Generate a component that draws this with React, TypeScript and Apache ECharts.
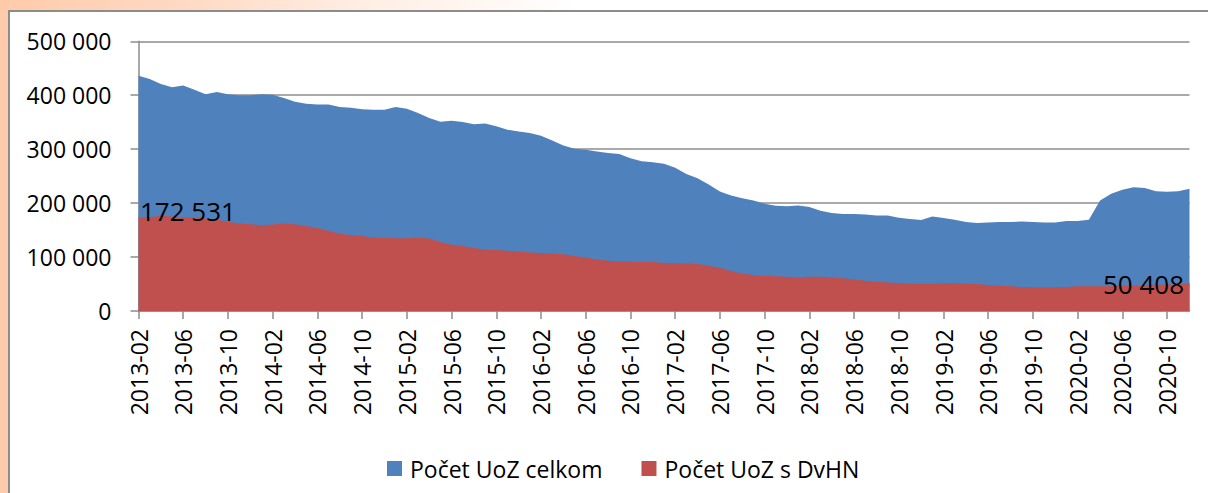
import React, { useEffect, useRef } from "react";
import * as echarts from "echarts";

const startYear = 2013;
const startMonth = 2;
const monthCount = 95;

const categories: string[] = [];
for (let i = 0; i < monthCount; i++) {
  const m = startMonth - 1 + i;
  const y = startYear + Math.floor(m / 12);
  const mm = (m % 12) + 1;
  categories.push(`${y}-${mm < 10 ? "0" + mm : mm}`);
}

const seriesNames = ["Počet UoZ celkom", "Počet UoZ s DvHN"];

const totalValues = [
  436000, 430000, 421000, 415000, 418000, 410000, 402000, 406000, 402000, 400000,
  400000, 402000, 401000, 395000, 388000, 384000, 383000, 383000, 378000, 377000,
  374000, 373000, 373000, 378000, 375000, 367000, 358000, 351000, 352500, 350600,
  346000, 347500, 342600, 336000, 333000, 330000, 325000, 316000, 307000, 300600,
  298800, 295700, 293000, 291000, 283000, 277800, 276000, 272800, 265400, 254000,
  246000, 234600, 221600, 214000, 209000, 205000, 198800, 195000, 194400, 195700,
  192600, 185800, 181500, 179600, 179600, 179000, 177000, 177000, 172800, 170400,
  168500, 175300, 172200, 169000, 164800, 163000, 164200, 164800, 164800, 166000,
  164800, 164200, 164200, 166700, 166700, 169000, 205000, 217300, 224700, 229600,
  227800, 222200, 221000, 222200, 226500,
];

const longTermValues = [
  172531, 174000, 176500, 175000, 174000, 173000, 171600, 169000, 166000, 162000,
  161000, 159000, 160500, 162000, 161000, 157000, 154000, 149000, 143000, 141000,
  139000, 136000, 136000, 135000, 135000, 135800, 134600, 127800, 122800, 120400,
  116700, 114000, 113000, 111700, 110500, 108600, 107400, 106800, 105000, 101900,
  99400, 95700, 93200, 92000, 92000, 90700, 90700, 88900, 88300, 88300,
  87000, 84000, 79600, 74000, 69000, 66700, 65400, 64200, 63600, 62300,
  63600, 63600, 62300, 60500, 58600, 56000, 54300, 53000, 51900, 51200,
  50600, 50600, 51200, 51900, 51200, 50000, 48000, 46900, 45700, 44400,
  43800, 43800, 43800, 44400, 45700, 45700, 45700, 46000, 46500, 47000,
  48000, 48500, 49000, 49500, 50408,
];

const yTicks = { min: 0, max: 500000, interval: 100000 };

const FONT = "'Open Sans', sans-serif";
const BLUE = "#4F81BD";
const RED = "#C0504D";

const fmt = (v: number) => String(Math.round(v)).replace(/\B(?=(\d{3})+(?!\d))/g, " ");

export default function App() {
  const ref = useRef<HTMLDivElement>(null);

  useEffect(() => {
    if (!ref.current) return;
    const chart = echarts.init(ref.current, undefined, { renderer: "svg" });

    const lastIdx = longTermValues.length - 1;
    const redData = longTermValues.map((v, i) => {
      if (i === 0) {
        return {
          value: v,
          symbol: "circle",
          symbolSize: 1,
          label: {
            show: true,
            position: "right",
            distance: 1,
            offset: [0, -7],
            formatter: (p: any) => fmt(p.value),
            fontFamily: FONT,
            fontSize: 26,
            color: "#000",
          },
        };
      }
      if (i === lastIdx) {
        return {
          value: v,
          symbol: "circle",
          symbolSize: 1,
          label: {
            show: true,
            position: "left",
            distance: 5,
            formatter: (p: any) => fmt(p.value),
            fontFamily: FONT,
            fontSize: 26,
            color: "#000",
          },
        };
      }
      return { value: v };
    });

    chart.setOption({
      animation: false,
      backgroundColor: "transparent",
      grid: {
        left: 138.5,
        right: 18.5,
        top: 41.3,
        bottom: 182,
        containLabel: false,
        outerBoundsMode: "none",
      },
      legend: {
        left: 382,
        top: 452,
        icon: "rect",
        itemWidth: 15,
        itemHeight: 15,
        itemGap: 39,
        data: seriesNames,
        textStyle: {
          fontFamily: FONT,
          fontSize: 23,
          color: "#000",
          padding: [0, 0, 0, 3],
        },
      },
      xAxis: {
        type: "category",
        data: categories,
        boundaryGap: false,
        axisLine: { lineStyle: { color: "#8c8c8c", width: 1.5 } },
        axisTick: {
          interval: 3,
          length: 8,
          lineStyle: { color: "#8c8c8c", width: 1.5 },
        },
        axisLabel: {
          interval: 3,
          rotate: 90,
          margin: 18,
          fontFamily: FONT,
          fontSize: 23,
          color: "#000",
        },
        splitLine: { show: false },
      },
      yAxis: {
        type: "value",
        min: yTicks.min,
        max: yTicks.max,
        interval: yTicks.interval,
        axisLine: { show: true, lineStyle: { color: "#8c8c8c", width: 1.5 } },
        axisTick: { show: true, length: 8, lineStyle: { color: "#8c8c8c", width: 1.5 } },
        axisLabel: {
          margin: 27,
          fontFamily: FONT,
          fontSize: 23,
          color: "#000",
          formatter: (v: number) => fmt(v),
        },
        splitLine: { show: true, lineStyle: { color: "#8c8c8c", width: 1.5 } },
      },
      series: [
        {
          name: seriesNames[0],
          type: "line",
          data: totalValues,
          symbol: "none",
          showSymbol: false,
          lineStyle: { width: 0, opacity: 0 },
          itemStyle: { color: BLUE },
          areaStyle: { color: BLUE, opacity: 1 },
          z: 2,
        },
        {
          name: seriesNames[1],
          type: "line",
          data: redData,
          symbol: "none",
          showAllSymbol: true,
          lineStyle: { width: 0, opacity: 0 },
          itemStyle: { color: RED },
          areaStyle: { color: RED, opacity: 1 },
          z: 3,
        },
      ],
    });

    return () => chart.dispose();
  }, []);

  return (
    <div
      style={{
        position: "fixed",
        left: 0,
        top: 0,
        width: 1208,
        height: 493,
        overflow: "hidden",
        background:
          "linear-gradient(to right, #FFCBAA 0%, #FFD9C3 15%, #FFEEE3 30%, #FFFFFF 48%)",
      }}
    >
      <div
        style={{
          position: "absolute",
          left: 8,
          top: 10,
          width: 1300,
          height: 600,
          background: "#fff",
          border: "2px solid #8c8c8c",
        }}
      />
      <div
        ref={ref}
        style={{ position: "absolute", left: 0, top: 0, width: 1208, height: 493 }}
      />
    </div>
  );
}
